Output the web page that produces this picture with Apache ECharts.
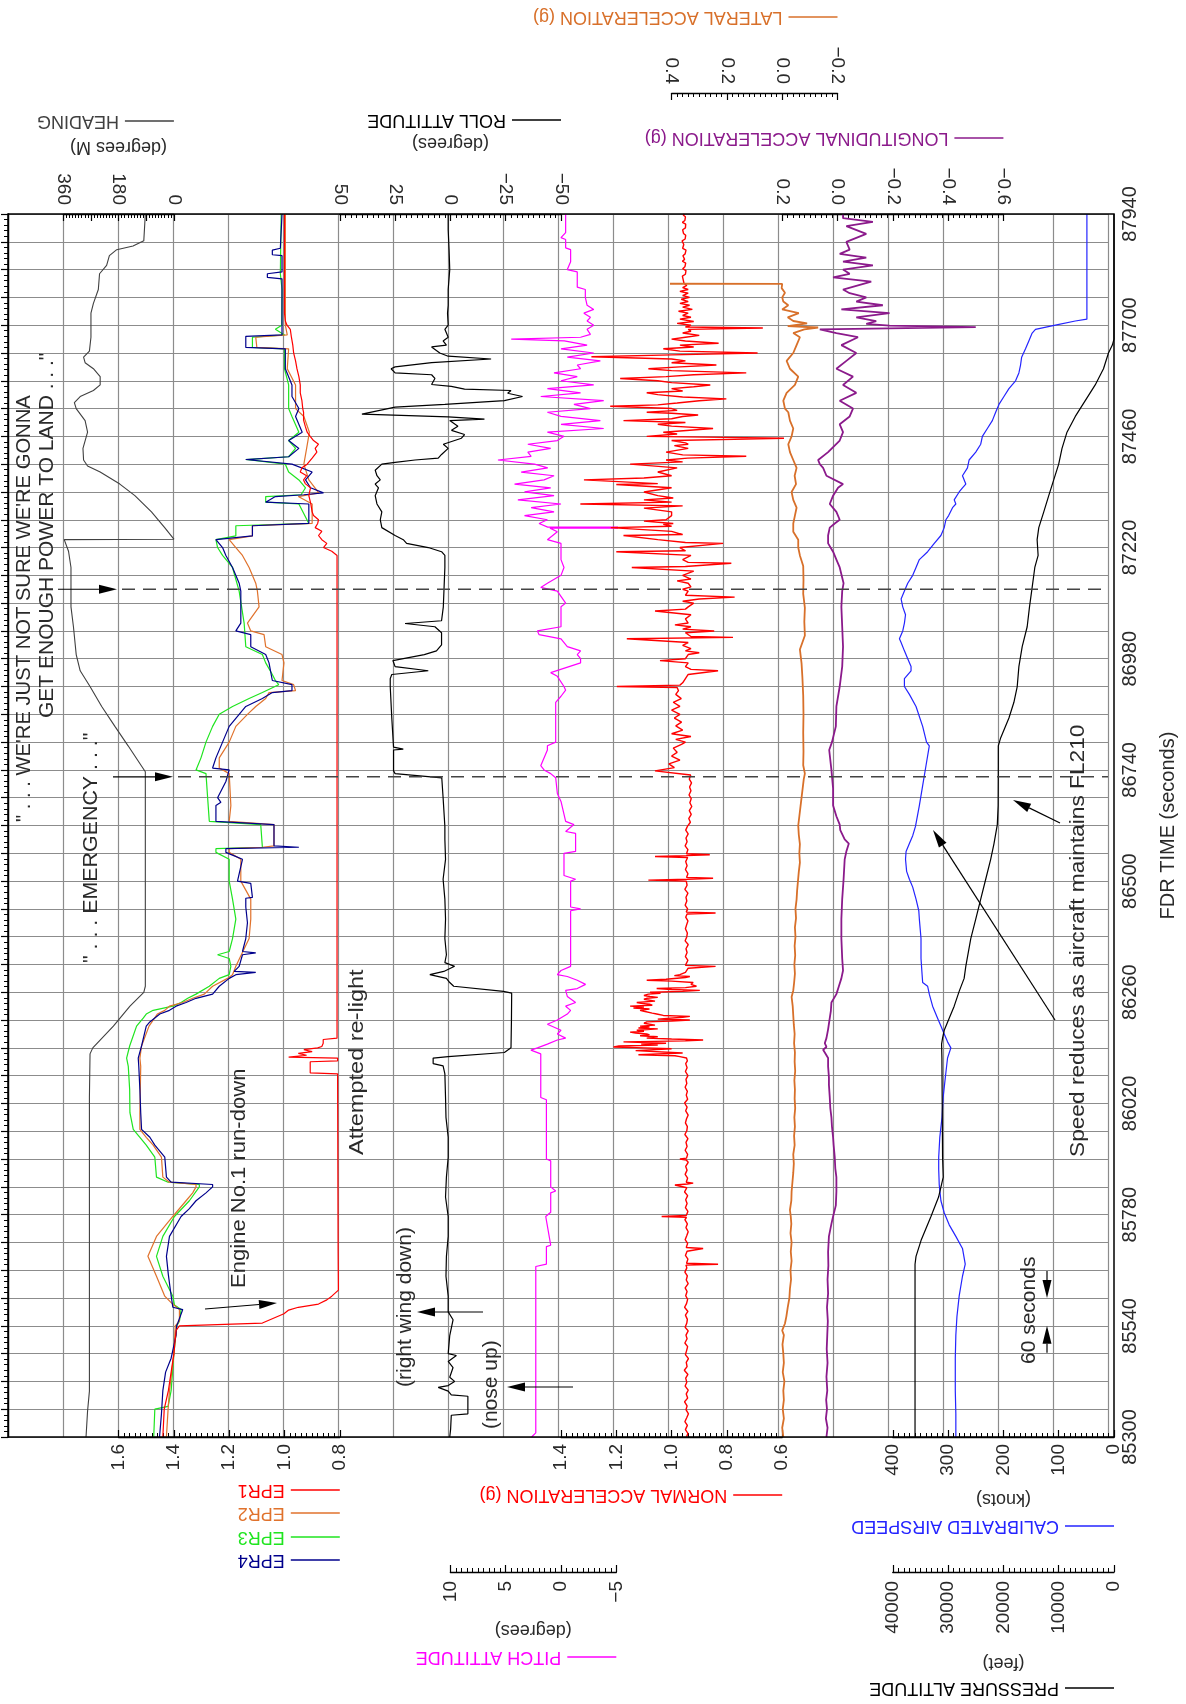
<!DOCTYPE html>
<html><head><meta charset="utf-8">
<script src="https://cdn.jsdelivr.net/npm/echarts@6/dist/echarts.min.js"></script>
<style>html,body{margin:0;padding:0;background:#fff}#c{width:1186px;height:1704px}</style>
</head><body><div id="c"></div>
<script>
// ---------------- DATA (FDR time in seconds, value) ----------------
const T0 = 85300, T1 = 87940;
const TIME_LABEL_STEP = 240, GRID_STEP = 60;
const EVENT_TIMES = [86725, 87130];

const HEADING = [[85300,286],[85356,281],[85399,275],[85690,275],[86033,275],[86127,273],[86140,264],[86187,197],[86230,143],[86260,98],[86273,93],[86736,93],[86749,106],[86792,149],[86834,192],[86877,235],[86920,273],[86954,305],[86989,318],[87049,327],[87092,335],[87177,335],[87212,343],[87237,357],[87238,360],[87238,0],[87263,30],[87297,73],[87332,127],[87357,176],[87383,240],[87396,281],[87409,294],[87434,296],[87469,281],[87494,289],[87520,318],[87533,324],[87546,305],[87559,262],[87571,240],[87589,240],[87606,262],[87619,289],[87631,294],[87644,275],[87674,270],[87726,270],[87747,262],[87777,246],[87811,242],[87829,219],[87850,210],[87863,186],[87871,133],[87882,98],[87940,93]];

const EPR1 = [[85300,1.44],[85360,1.435],[85400,1.42],[85480,1.40],[85530,1.392],[85540,1.38],[85546,1.08],[85566,1.002],[85574,0.985],[85580,0.95],[85587,0.877],[85596,0.847],[85604,0.829],[85617,0.805],[85700,0.806],[86084,0.808],[86086,0.907],[86110,0.907],[86112,0.808],[86118,0.808],[86120,0.985],[86124,0.92],[86128,0.95],[86132,0.90],[86136,0.93],[86140,0.88],[86143,0.865],[86150,0.86],[86158,0.86],[86161,0.81],[87203,0.81],[87212,0.829],[87220,0.859],[87229,0.847],[87237,0.865],[87246,0.877],[87255,0.865],[87263,0.889],[87272,0.88],[87280,0.877],[87289,0.895],[87297,0.90],[87315,0.905],[87332,0.912],[87349,0.906],[87358,0.925],[87366,0.931],[87375,0.92],[87383,0.943],[87392,0.937],[87400,0.918],[87413,0.90],[87426,0.883],[87434,0.889],[87443,0.877],[87451,0.895],[87460,0.907],[87469,0.918],[87482,0.925],[87495,0.931],[87512,0.931],[87520,0.934],[87537,0.937],[87554,0.943],[87571,0.943],[87589,0.948],[87606,0.955],[87623,0.96],[87640,0.967],[87657,0.97],[87674,0.975],[87691,0.979],[87700,0.991],[87709,0.997],[87726,1.0],[87940,1.0]];

const EPR2 = [[85300,1.427],[85360,1.421],[85400,1.416],[85480,1.40],[85540,1.395],[85550,1.38],[85575,1.38],[85590,1.41],[85604,1.433],[85647,1.463],[85690,1.494],[85733,1.463],[85776,1.404],[85810,1.356],[85827,1.332],[85840,1.32],[85845,1.32],[85850,1.416],[85861,1.44],[85904,1.445],[85930,1.475],[85947,1.50],[85964,1.523],[86000,1.523],[86100,1.52],[86118,1.523],[86144,1.517],[86187,1.49],[86213,1.46],[86221,1.433],[86230,1.416],[86238,1.368],[86247,1.332],[86256,1.29],[86273,1.26],[86290,1.206],[86298,1.188],[86316,1.176],[86376,1.128],[86418,1.122],[86461,1.122],[86500,1.158],[86547,1.158],[86562,1.20],[86570,1.20],[86573,1.08],[86576,1.038],[86622,1.038],[86625,1.04],[86629,1.20],[86663,1.194],[86732,1.20],[86744,1.236],[86766,1.236],[86800,1.20],[86834,1.176],[86860,1.134],[86877,1.104],[86894,1.068],[86907,1.056],[86911,0.96],[86924,0.967],[86933,1.009],[86971,1.002],[86989,1.009],[87006,1.068],[87032,1.074],[87040,1.122],[87057,1.134],[87092,1.092],[87126,1.098],[87143,1.104],[87177,1.128],[87203,1.152],[87220,1.176],[87237,1.20],[87245,1.116],[87267,1.116],[87272,0.90],[87314,0.90],[87330,0.95],[87338,0.876],[87366,0.912],[87400,0.93],[87434,0.92],[87469,0.91],[87503,0.93],[87520,0.96],[87571,0.96],[87606,0.99],[87649,0.985],[87652,1.10],[87674,1.104],[87679,0.99],[87700,0.997],[87777,0.997],[87940,0.997]];

const EPR3 = [[85300,1.473],[85360,1.469],[85366,1.421],[85400,1.41],[85480,1.40],[85540,1.39],[85550,1.38],[85575,1.374],[85585,1.398],[85604,1.404],[85647,1.44],[85690,1.463],[85733,1.44],[85776,1.398],[85810,1.344],[85840,1.308],[85845,1.308],[85850,1.421],[85861,1.463],[85904,1.469],[85930,1.50],[85947,1.523],[85964,1.547],[86000,1.559],[86050,1.56],[86100,1.565],[86118,1.571],[86144,1.56],[86187,1.535],[86204,1.511],[86213,1.50],[86221,1.475],[86230,1.404],[86238,1.374],[86247,1.35],[86256,1.32],[86273,1.272],[86290,1.236],[86298,1.20],[86316,1.194],[86333,1.20],[86341,1.242],[86348,1.20],[86376,1.188],[86418,1.176],[86461,1.188],[86500,1.20],[86547,1.20],[86562,1.248],[86570,1.248],[86573,1.08],[86576,1.08],[86622,1.086],[86625,1.09],[86629,1.272],[86680,1.278],[86732,1.284],[86740,1.32],[86766,1.302],[86800,1.284],[86834,1.26],[86860,1.236],[86877,1.188],[86894,1.128],[86907,1.08],[86924,1.021],[86933,1.033],[86946,1.044],[86971,1.068],[86989,1.08],[87006,1.14],[87057,1.146],[87126,1.164],[87177,1.188],[87203,1.224],[87220,1.242],[87237,1.248],[87245,1.176],[87267,1.176],[87272,0.912],[87314,0.948],[87318,1.068],[87330,1.068],[87334,0.94],[87349,0.924],[87366,0.948],[87383,0.985],[87400,0.997],[87410,1.14],[87416,0.985],[87434,0.96],[87451,0.985],[87469,0.948],[87503,0.973],[87520,0.985],[87571,0.985],[87606,1.0],[87649,1.0],[87652,1.116],[87674,1.116],[87679,1.0],[87691,1.033],[87700,1.01],[87777,1.009],[87811,1.015],[87940,1.012]];

const EPR4 = [[85300,1.452],[85350,1.445],[85400,1.44],[85440,1.43],[85470,1.41],[85520,1.392],[85540,1.39],[85546,1.386],[85575,1.368],[85580,1.404],[85605,1.41],[85650,1.42],[85690,1.427],[85733,1.416],[85776,1.374],[85793,1.344],[85810,1.32],[85827,1.284],[85840,1.26],[85845,1.26],[85850,1.41],[85861,1.427],[85904,1.433],[85930,1.469],[85947,1.487],[85964,1.517],[86000,1.52],[86050,1.523],[86100,1.527],[86118,1.529],[86144,1.517],[86187,1.50],[86196,1.487],[86213,1.451],[86221,1.416],[86230,1.392],[86238,1.356],[86247,1.32],[86256,1.26],[86273,1.236],[86290,1.20],[86298,1.176],[86303,1.104],[86305,1.182],[86316,1.164],[86341,1.152],[86345,1.104],[86348,1.152],[86376,1.14],[86410,1.134],[86444,1.14],[86463,1.14],[86465,1.116],[86495,1.122],[86500,1.17],[86547,1.152],[86556,1.188],[86562,1.212],[86570,1.212],[86573,0.948],[86576,1.038],[86622,1.038],[86625,1.044],[86629,1.248],[86663,1.248],[86670,1.23],[86680,1.242],[86715,1.212],[86740,1.20],[86744,1.26],[86766,1.248],[86800,1.224],[86834,1.20],[86860,1.164],[86877,1.14],[86894,1.08],[86907,1.044],[86911,0.973],[86924,0.973],[86933,1.044],[86971,1.056],[86989,1.068],[87006,1.122],[87032,1.122],[87040,1.176],[87057,1.158],[87126,1.158],[87143,1.164],[87177,1.188],[87203,1.212],[87220,1.224],[87237,1.248],[87245,1.116],[87267,1.116],[87272,0.912],[87314,0.912],[87318,1.068],[87330,1.033],[87334,0.93],[87338,0.859],[87349,0.906],[87366,0.924],[87383,0.90],[87400,0.973],[87410,1.14],[87416,0.985],[87434,0.948],[87451,0.985],[87469,0.936],[87503,0.96],[87520,0.948],[87546,0.973],[87571,0.973],[87606,0.997],[87649,0.997],[87652,1.14],[87676,1.14],[87679,1.009],[87700,1.009],[87800,1.009],[87803,1.062],[87811,1.062],[87815,1.009],[87850,1.009],[87852,1.044],[87862,1.044],[87866,1.015],[87940,1.009]];

const ROLL = [[85300,0.3],[85317,-0.1],[85347,-0.4],[85350,-7.9],[85388,-7.9],[85391,-0.4],[85399,1.0],[85407,5.5],[85411,1.0],[85420,-1.9],[85429,0.3],[85450,-1.2],[85463,1.0],[85476,-2.7],[85480,1.0],[85519,0.3],[85553,-1.2],[85570,1.0],[85604,1.0],[85647,2.0],[85690,1.8],[85733,1.0],[85776,1.0],[85818,2.2],[85861,1.8],[85904,1.0],[85947,1.0],[85990,2.0],[86033,2.2],[86084,2.5],[86101,3.3],[86106,7.8],[86118,7.8],[86121,1.0],[86130,-24.4],[86140,-27.4],[86200,-27.6],[86258,-27.7],[86262,-24],[86273,-1.5],[86281,0.3],[86290,1.8],[86298,9.3],[86305,3],[86316,-1.9],[86324,2.5],[86341,1.8],[86376,2.5],[86418,2.2],[86461,2.5],[86504,3.3],[86547,2.2],[86590,2.5],[86618,2.5],[86680,3.3],[86723,3.9],[86732,25],[86738,25.7],[86783,25.7],[86785,21.3],[86789,25.7],[86852,26.5],[86920,27.2],[86937,27.2],[86946,26.5],[86954,10],[86963,25],[86976,26],[86989,11.8],[86997,6.3],[87010,4],[87036,4],[87049,7],[87056,20.5],[87062,4],[87092,3.2],[87177,2.5],[87203,2.5],[87211,4],[87220,10],[87229,19.8],[87237,21.3],[87246,25],[87263,31],[87280,31.7],[87297,31],[87314,33.2],[87332,34],[87349,32.5],[87357,34],[87366,31.7],[87375,33.2],[87387,34],[87400,31],[87404,25],[87409,16],[87413,5.5],[87421,4],[87434,1],[87443,3.2],[87456,-5],[87464,-6.4],[87473,-0.5],[87482,-3.4],[87494,0.3],[87497,-15.4],[87502,1],[87508,40],[87523,25],[87529,2.5],[87537,-24.4],[87546,-32.6],[87553,-25.9],[87559,-27.4],[87562,-6.4],[87568,-0.4],[87572,8.5],[87585,7],[87593,8.5],[87597,25],[87606,26.8],[87610,25],[87619,8.5],[87627,-18.4],[87633,1],[87640,4.8],[87653,8.5],[87657,1.8],[87666,3.3],[87674,1],[87691,2.5],[87700,1],[87726,1.3],[87743,1],[87777,1],[87820,0.3],[87863,0.6],[87906,1],[87940,1]];

const PITCH = [[85300,2.66],[85309,2.28],[85668,2.28],[85673,1.32],[85711,1.32],[85714,0.93],[85776,1.38],[85785,0.93],[85827,0.93],[85831,0.48],[85840,0.93],[85896,0.93],[85900,1.32],[86028,1.32],[86033,1.83],[86127,1.83],[86135,2.72],[86140,2.13],[86148,1.23],[86157,0.33],[86161,-0.42],[86170,0.33],[86178,0],[86191,1.23],[86200,0.33],[86213,-0.57],[86221,-0.87],[86230,-0.42],[86238,-1.32],[86251,-0.57],[86264,-0.42],[86268,-1.47],[86277,-2.22],[86286,-1.47],[86294,-0.57],[86298,0.33],[86307,0],[86316,-0.87],[86436,-0.87],[86440,-1.77],[86444,-0.87],[86500,-0.87],[86504,-1.32],[86512,-0.27],[86560,-0.27],[86564,-1.32],[86603,-1.32],[86607,-0.42],[86622,-1.17],[86629,-0.42],[86672,0],[86689,0.33],[86723,0.48],[86732,0.93],[86740,1.53],[86749,1.83],[86783,1.23],[86792,1.23],[86800,0.48],[86886,0.48],[86899,0],[86912,-0.42],[86920,-0.27],[86942,0.33],[86950,0.93],[86971,-1.77],[86980,-1.77],[86989,-1.47],[86997,-1.77],[87006,-0.57],[87023,0],[87032,1.98],[87040,2.13],[87049,0],[87092,0],[87100,-0.42],[87126,0.33],[87134,1.83],[87143,1.23],[87160,0],[87177,-0.27],[87194,0],[87229,0],[87237,1.23],[87254,0.33],[87262,1.0],[87263,-50],[87264,1.2],[87272,1.98],[87280,1.23],[87289,3.3],[87297,0.63],[87306,2.7],[87314,0],[87323,3.9],[87332,0.63],[87340,3.3],[87349,0.93],[87357,4.2],[87366,1.53],[87375,0.63],[87383,3.6],[87392,1.2],[87400,2.4],[87409,5.7],[87417,2.7],[87426,3.0],[87434,0.93],[87443,3.0],[87451,0.33],[87460,-0.27],[87469,1.23],[87477,-3.86],[87486,0],[87494,-3.56],[87503,0],[87512,1.23],[87520,-2.66],[87529,-1.17],[87537,-3.86],[87546,1.83],[87554,-1.77],[87563,1.23],[87571,-2.96],[87580,0],[87589,-1.47],[87597,0.63],[87606,-1.77],[87614,-1.47],[87623,-3.56],[87631,-0.57],[87640,-2.96],[87649,0],[87657,-2.36],[87666,-0.3],[87670,4.5],[87674,-1.77],[87680,-2.66],[87691,-2.36],[87700,-2.96],[87709,-2.36],[87717,-2.66],[87726,-2.07],[87734,-2.96],[87743,-2.36],[87760,-2.2],[87777,-2.2],[87782,-1.47],[87815,-1.47],[87820,-0.57],[87837,-0.87],[87863,-0.87],[87867,-0.42],[87885,-0.42],[87889,0],[87900,-0.42],[87940,-0.42]];

const NORMAL_ACC = [[85300,0.946],[85308,0.941],[85316,0.950],[85325,0.943],[85333,0.952],[85342,0.945],[85350,0.939],[85359,0.948],[85367,0.944],[85376,0.953],[85384,0.942],[85393,0.947],[85401,0.940],[85410,0.951],[85418,0.945],[85427,0.949],[85435,0.941],[85444,0.954],[85452,0.944],[85461,0.947],[85469,0.939],[85478,0.950],[85486,0.946],[85495,0.942],[85503,0.952],[85512,0.944],[85520,0.948],[85529,0.940],[85537,0.951],[85546,0.945],[85554,0.943],[85563,0.950],[85571,0.941],[85580,0.953],[85588,0.946],[85597,0.942],[85605,0.949],[85614,0.944],[85622,0.951],[85631,0.940],[85639,0.947],[85648,0.943],[85656,0.952],[85665,0.945],[85671,0.948],[85673,0.832],[85675,0.946],[85684,0.941],[85692,0.950],[85701,0.944],[85705,0.949],[85707,0.886],[85709,0.947],[85718,0.942],[85726,0.951],[85735,0.945],[85743,0.940],[85752,0.948],[85760,0.943],[85769,0.952],[85774,0.946],[85776,1.036],[85778,0.947],[85787,0.941],[85795,0.950],[85804,0.944],[85812,0.949],[85821,0.942],[85829,0.953],[85838,0.945],[85842,0.948],[85844,0.988],[85846,0.943],[85848,0.922],[85850,0.947],[85859,0.942],[85867,0.951],[85876,0.944],[85884,0.949],[85893,0.940],[85898,0.947],[85900,0.97],[85902,0.946],[85910,0.942],[85919,0.951],[85927,0.944],[85936,0.948],[85944,0.941],[85953,0.952],[85961,0.945],[85970,0.943],[85978,0.950],[85987,0.946],[85995,0.940],[86004,0.949],[86012,0.944],[86021,0.953],[86029,0.942],[86038,0.947],[86046,0.943],[86055,0.951],[86063,0.945],[86072,0.948],[86080,0.941],[86089,0.950],[86097,0.944],[86106,0.949],[86112,0.943],[86118,0.946],[86121,0.97],[86123,0.988],[86125,1.12],[86127,1.05],[86129,0.96],[86131,0.958],[86134,1.13],[86136,1.126],[86138,1.0],[86140,1.1],[86142,1.21],[86144,1.19],[86146,1.05],[86148,1.11],[86150,1.02],[86153,1.174],[86155,0.95],[86157,0.886],[86159,1.0],[86161,1.09],[86164,1.05],[86166,1.114],[86168,1.08],[86170,1.09],[86172,1.13],[86174,1.15],[86176,1.1],[86178,1.126],[86181,1.05],[86183,1.12],[86185,1.08],[86187,1.114],[86189,1.06],[86191,1.066],[86193,1.1],[86196,1.09],[86198,1.0],[86200,0.934],[86202,1.05],[86204,1.054],[86206,0.96],[86208,0.934],[86210,1.03],[86213,1.054],[86215,1.07],[86217,1.066],[86219,1.1],[86221,1.114],[86224,1.08],[86226,1.138],[86228,1.1],[86230,1.15],[86232,1.07],[86234,1.078],[86236,1.11],[86238,1.126],[86241,1.06],[86243,1.066],[86245,1.1],[86247,1.09],[86249,1.05],[86251,1.078],[86253,1.1],[86256,1.084],[86258,1.04],[86260,1.078],[86262,0.96],[86264,0.898],[86266,1.0],[86268,1.054],[86270,0.95],[86273,0.91],[86277,0.93],[86281,0.922],[86284,1.0],[86286,1.09],[86288,1.02],[86290,1.018],[86292,0.95],[86294,0.934],[86296,0.99],[86298,0.97],[86303,0.95],[86307,0.946],[86312,0.94],[86316,0.841],[86318,0.95],[86320,0.946],[86329,0.941],[86337,0.950],[86346,0.944],[86354,0.948],[86363,0.940],[86371,0.951],[86380,0.945],[86388,0.943],[86397,0.950],[86405,0.946],[86414,0.941],[86422,0.949],[86429,0.944],[86431,0.841],[86433,0.947],[86440,0.942],[86448,0.951],[86457,0.945],[86465,0.948],[86474,0.941],[86482,0.952],[86491,0.944],[86500,0.947],[86502,1.084],[86504,0.943],[86506,0.85],[86508,0.946],[86516,0.941],[86525,0.950],[86533,0.944],[86542,0.949],[86551,0.942],[86553,1.06],[86555,0.947],[86557,0.862],[86559,0.946],[86568,0.941],[86576,0.951],[86585,0.944],[86593,0.948],[86602,0.940],[86610,0.949],[86618,0.943],[86627,0.932],[86635,0.938],[86644,0.929],[86652,0.936],[86661,0.927],[86669,0.934],[86678,0.929],[86686,0.937],[86695,0.930],[86703,0.935],[86712,0.928],[86720,0.936],[86729,0.931],[86738,1.06],[86745,0.99],[86753,1.01],[86761,0.97],[86770,1.0],[86778,0.98],[86787,0.994],[86795,0.964],[86800,0.95],[86806,0.985],[86812,0.93],[86818,1.0],[86826,0.96],[86835,0.985],[86843,0.964],[86852,0.99],[86860,0.97],[86869,1.0],[86877,0.97],[86886,0.994],[86894,0.965],[86903,0.985],[86911,0.975],[86918,0.98],[86920,1.198],[86923,0.97],[86928,0.96],[86937,0.95],[86946,0.94],[86954,0.832],[86957,0.93],[86963,0.95],[86971,0.94],[86976,1.042],[86980,0.95],[86989,0.94],[86993,0.9],[86997,0.95],[87002,0.93],[87009,0.96],[87015,0.94],[87023,1.162],[87026,0.778],[87028,0.93],[87036,0.95],[87040,0.846],[87044,0.96],[87049,0.93],[87053,0.988],[87057,0.94],[87066,0.95],[87075,0.93],[87083,1.06],[87087,0.95],[87092,0.94],[87100,0.92],[87104,0.96],[87109,0.9],[87113,0.772],[87117,0.95],[87126,0.94],[87130,0.96],[87135,0.93],[87143,0.94],[87148,0.98],[87152,0.93],[87160,0.96],[87169,0.92],[87177,1.144],[87179,0.95],[87186,0.784],[87188,0.94],[87194,0.96],[87203,0.93],[87211,1.2],[87213,0.95],[87220,0.97],[87229,0.814],[87231,0.95],[87237,1.05],[87246,1.174],[87248,0.96],[87255,1.0],[87263,1.22],[87266,1.0],[87270,1.03],[87272,0.994],[87277,1.1],[87280,1.02],[87289,1.0],[87297,1.0],[87305,1.1],[87310,0.96],[87314,1.33],[87318,1.0],[87323,1.1],[87327,0.994],[87332,1.05],[87340,1.1],[87349,1.0],[87356,1.2],[87358,1.05],[87366,1.317],[87370,1.1],[87375,1.0],[87383,1.05],[87392,0.98],[87400,1.15],[87405,0.96],[87409,1.02],[87413,0.942],[87417,0.73],[87420,0.96],[87426,1.02],[87434,0.94],[87440,0.99],[87443,0.94],[87446,0.95],[87451,1.0],[87456,0.572],[87460,1.09],[87465,0.98],[87469,1.03],[87477,0.85],[87482,1.0],[87486,1.05],[87490,0.95],[87494,1.174],[87498,1.0],[87503,0.96],[87506,0.904],[87510,1.0],[87512,1.09],[87516,0.98],[87520,1.0],[87525,1.222],[87528,1.05],[87532,0.98],[87537,0.9],[87541,0.802],[87545,0.96],[87550,1.05],[87554,1.09],[87558,0.96],[87563,1.0],[87567,0.92],[87571,0.86],[87576,1.0],[87580,1.05],[87585,1.186],[87589,1.02],[87593,0.92],[87597,0.73],[87602,1.0],[87606,1.084],[87610,0.97],[87614,0.838],[87619,1.0],[87623,0.95],[87627,1.0],[87632,1.29],[87636,1.0],[87640,0.689],[87644,0.97],[87649,1.03],[87653,0.92],[87657,0.97],[87661,0.83],[87666,0.95],[87670,1.0],[87674,0.95],[87678,0.9],[87683,0.96],[87687,0.93],[87691,0.94],[87694,0.67],[87696,0.95],[87700,0.93],[87704,0.98],[87708,0.92],[87713,0.97],[87717,0.93],[87721,0.96],[87726,0.94],[87730,0.975],[87734,0.925],[87739,0.96],[87743,0.935],[87747,0.97],[87751,0.94],[87756,0.965],[87760,0.935],[87764,0.96],[87769,0.94],[87773,0.97],[87777,0.94],[87781,0.96],[87786,0.945],[87790,0.955],[87794,0.949],[87798,0.958],[87802,0.951],[87806,0.961],[87810,0.950],[87814,0.957],[87818,0.948],[87822,0.960],[87826,0.952],[87830,0.956],[87834,0.949],[87838,0.961],[87842,0.953],[87846,0.950],[87850,0.959],[87854,0.951],[87858,0.957],[87862,0.948],[87866,0.960],[87870,0.953],[87874,0.956],[87878,0.950],[87882,0.962],[87886,0.951],[87890,0.958],[87894,0.949],[87898,0.957],[87902,0.952],[87906,0.960],[87910,0.950],[87914,0.956],[87918,0.949],[87922,0.961],[87926,0.952],[87930,0.957],[87934,0.950],[87938,0.958],[87940,0.954]];

const LATERAL_ACC = [[85300,-0.004],[85320,0.0],[85340,-0.006],[85360,-0.002],[85380,-0.006],[85400,-0.004],[85420,-0.008],[85440,-0.002],[85460,-0.006],[85480,-0.004],[85500,-0.001],[85520,-0.006],[85530,0.0],[85545,-0.01],[85560,-0.015],[85580,-0.02],[85600,-0.026],[85620,-0.028],[85640,-0.032],[85660,-0.03],[85680,-0.034],[85700,-0.031],[85720,-0.034],[85740,-0.03],[85760,-0.033],[85776,-0.031],[85790,-0.028],[85810,-0.033],[85830,-0.034],[85850,-0.037],[85870,-0.04],[85890,-0.042],[85910,-0.04],[85930,-0.045],[85950,-0.043],[85970,-0.046],[85990,-0.044],[86010,-0.047],[86030,-0.045],[86050,-0.046],[86070,-0.044],[86090,-0.047],[86110,-0.045],[86130,-0.046],[86150,-0.043],[86170,-0.045],[86190,-0.042],[86210,-0.04],[86230,-0.038],[86250,-0.034],[86264,-0.04],[86280,-0.043],[86300,-0.046],[86320,-0.044],[86340,-0.047],[86360,-0.045],[86380,-0.048],[86400,-0.046],[86420,-0.05],[86440,-0.048],[86460,-0.052],[86480,-0.054],[86500,-0.057],[86520,-0.06],[86540,-0.064],[86560,-0.062],[86580,-0.064],[86600,-0.06],[86620,-0.058],[86640,-0.062],[86660,-0.066],[86680,-0.07],[86700,-0.074],[86720,-0.078],[86732,-0.082],[86750,-0.076],[86780,-0.077],[86820,-0.076],[86860,-0.077],[86900,-0.076],[86940,-0.073],[86970,-0.07],[87000,-0.064],[87030,-0.082],[87060,-0.08],[87090,-0.082],[87120,-0.076],[87150,-0.077],[87180,-0.076],[87203,-0.064],[87220,-0.058],[87237,-0.058],[87254,-0.04],[87272,-0.04],[87289,-0.046],[87306,-0.052],[87323,-0.04],[87340,-0.034],[87357,-0.05],[87375,-0.045],[87392,-0.052],[87409,-0.04],[87426,-0.028],[87443,-0.022],[87460,-0.034],[87477,-0.04],[87494,-0.028],[87512,-0.022],[87520,-0.01],[87537,-0.004],[87554,-0.016],[87571,-0.046],[87589,-0.058],[87606,-0.028],[87623,-0.016],[87640,-0.04],[87657,-0.052],[87674,-0.064],[87683,-0.04],[87691,-0.08],[87695,-0.13],[87698,-0.02],[87704,-0.09],[87709,-0.04],[87717,-0.02],[87726,-0.06],[87734,0.0],[87743,-0.022],[87751,-0.004],[87760,0.0],[87770,-0.01],[87780,0.002],[87789,0.0],[87790,1.0],[87940,1.0]];

const LONG_ACC = [[85300,0.04],[85320,0.036],[85340,0.042],[85360,0.038],[85380,0.041],[85400,0.037],[85430,0.04],[85460,0.036],[85490,0.039],[85520,0.037],[85550,0.035],[85580,0.038],[85610,0.034],[85640,0.036],[85670,0.033],[85700,0.034],[85733,0.031],[85760,0.022],[85776,0.016],[85800,0.006],[85830,0.004],[85861,0.004],[85880,0.008],[85904,0.01],[85930,0.014],[85947,0.016],[85970,0.02],[85990,0.022],[86010,0.026],[86033,0.028],[86060,0.031],[86076,0.031],[86100,0.034],[86118,0.034],[86130,0.046],[86136,0.052],[86142,0.04],[86150,0.046],[86161,0.04],[86180,0.034],[86204,0.028],[86220,0.024],[86238,0.022],[86256,0.004],[86273,-0.005],[86290,-0.014],[86307,-0.02],[86333,-0.017],[86376,-0.014],[86418,-0.014],[86461,-0.017],[86504,-0.022],[86547,-0.026],[86564,-0.032],[86581,-0.041],[86590,-0.026],[86610,-0.01],[86622,-0.008],[86640,0.004],[86663,0.016],[86700,0.016],[86740,0.022],[86783,0.03],[86800,0.02],[86834,0.006],[86877,0.004],[86920,-0.008],[86963,-0.017],[87006,-0.02],[87049,-0.017],[87092,-0.014],[87126,-0.017],[87143,-0.022],[87177,-0.008],[87194,0.004],[87211,0.016],[87229,0.034],[87246,0.034],[87263,0.028],[87272,0.01],[87280,-0.008],[87297,0.004],[87314,0.028],[87332,0.016],[87349,-0.002],[87357,-0.02],[87375,0.04],[87392,0.052],[87400,0.064],[87409,0.07],[87426,0.034],[87451,-0.008],[87469,-0.02],[87486,-0.008],[87503,-0.044],[87520,-0.056],[87537,-0.008],[87554,-0.068],[87571,-0.02],[87589,-0.056],[87606,0.004],[87623,-0.032],[87640,-0.068],[87657,-0.014],[87674,-0.074],[87683,0.004],[87691,0.064],[87696,-0.50],[87699,-0.188],[87703,-0.104],[87709,-0.14],[87717,-0.068],[87726,-0.188],[87734,-0.014],[87743,-0.164],[87751,-0.068],[87760,-0.104],[87769,-0.044],[87777,-0.02],[87794,-0.122],[87803,0.016],[87811,-0.044],[87820,-0.02],[87829,-0.128],[87837,-0.02],[87846,-0.104],[87854,-0.008],[87863,-0.044],[87880,-0.032],[87897,-0.104],[87914,-0.032],[87923,-0.128],[87931,-0.02],[87940,-0.02]];

const AIRSPEED = [[85300,286],[85350,286],[85400,287],[85470,287],[85520,286],[85560,284],[85604,280],[85647,274],[85673,269],[85707,274],[85733,286],[85758,298],[85784,307],[85810,313],[85844,316],[85878,317],[85904,317],[85947,315],[85990,311],[86033,309],[86076,305],[86118,301],[86140,295],[86153,301],[86170,307],[86187,313],[86204,319],[86230,328],[86256,334],[86273,337],[86281,346],[86298,347],[86333,349],[86376,349],[86418,352],[86436,353],[86461,358],[86487,364],[86504,370],[86521,375],[86547,377],[86564,376],[86581,370],[86598,364],[86618,359],[86663,352],[86706,346],[86749,340],[86792,334],[86800,339],[86834,346],[86877,358],[86903,370],[86920,379],[86937,379],[86954,367],[86963,367],[86980,373],[86997,379],[87015,385],[87023,388],[87040,382],[87057,379],[87075,377],[87092,382],[87109,385],[87126,379],[87143,373],[87160,364],[87177,358],[87194,352],[87211,337],[87229,325],[87246,313],[87263,307],[87280,304],[87289,299],[87306,292],[87314,286],[87323,289],[87340,280],[87349,274],[87357,268],[87375,274],[87392,265],[87409,262],[87426,250],[87443,241],[87460,238],[87477,229],[87494,220],[87512,214],[87529,208],[87546,199],[87563,190],[87580,178],[87597,172],[87614,169],[87631,167],[87649,160],[87666,154],[87683,148],[87691,142],[87700,106],[87709,70],[87713,49],[87940,49]];

const ALTITUDE = [[85300,35980],[85673,35980],[85690,35800],[85724,34900],[85776,33100],[85818,31720],[85861,30880],[85904,31000],[86118,31120],[86148,31180],[86161,31000],[86178,30700],[86204,29800],[86230,28900],[86262,28000],[86290,27100],[86316,26800],[86376,25900],[86418,25000],[86461,24100],[86504,23200],[86547,22300],[86581,21700],[86622,21100],[86663,20950],[86749,20920],[86792,20920],[86809,20500],[86852,19000],[86886,18100],[86920,17500],[86963,17200],[87006,16600],[87049,15700],[87092,15280],[87134,14800],[87177,14320],[87203,13720],[87237,13900],[87263,13600],[87297,12700],[87332,11800],[87366,10900],[87400,10000],[87434,9400],[87469,8500],[87503,7000],[87537,5200],[87571,3400],[87606,1900],[87640,1000],[87657,300],[87670,0],[87940,0]];

// ---------------- LAYOUT / STYLE ----------------
const FL = 8, FT = 214, FW = 1106, FH = 1223, NC = 20, CW = FW / NC;
const FONT = "'Liberation Sans', Arial, sans-serif";
const TXT = '#2a2a2a', GRIDC = '#8c8c8c';
const C = {epr1:'#ff0000', epr2:'#e0722c', epr3:'#1fe51f', epr4:'#00008c', hdg:'#404040', roll:'#000000',
  pitch:'#ff00ff', nz:'#ff0000', lat:'#d8702a', lon:'#8b1a8b', cas:'#2424ff', alt:'#000000'};

function colGrid(i0, i1) { return {left: FL + i0 * CW, top: FT, width: (i1 - i0) * CW, height: FH}; }
function minusFmt(s, v) { return (v < -1e-9 ? '\u2212' : '') + s; }
const f1 = v => minusFmt(Math.abs(v).toFixed(1), v);
const fi = v => minusFmt(String(Math.round(Math.abs(v))), v);

function paramAxis(gi, min, max, interval, pos, offset, fmt, split, margin) {
  return {gridIndex: gi, type: 'value', min, max, interval, inverse: true, position: pos, offset: offset || 0,
    axisLine: {show: true, onZero: false, lineStyle: {color: '#000', width: 1.4}},
    axisTick: {show: true, inside: true, length: 7, lineStyle: {color: '#000', width: 1.2}},
    minorTick: {show: true, splitNumber: split, length: 4, lineStyle: {color: '#000', width: 1}},
    axisLabel: {show: true, rotate: 90, margin: margin, fontSize: 19, fontFamily: FONT, color: TXT, formatter: fmt},
    splitLine: {show: false}, minorSplitLine: {show: false}};
}

const grids = [colGrid(0,20), colGrid(1,3), colGrid(2,6), colGrid(6,10), colGrid(8,11), colGrid(10,14),
  colGrid(12,15), colGrid(14,18), colGrid(16,20), colGrid(16,20)];

const xAxes = [
  {gridIndex: 0, type: 'value', min: 0, max: NC, interval: 1, axisLine: {show: false}, axisTick: {show: false},
    axisLabel: {show: false}, splitLine: {show: true, lineStyle: {color: GRIDC, width: 1.2}}},
  paramAxis(1, 0, 360, 90, 'top', 0, v => (v % 180 === 0 ? String(v) : ''), 9, 9),
  paramAxis(2, 0.8, 1.6, 0.2, 'bottom', 0, f1, 10, 7),
  paramAxis(3, -50, 50, 25, 'top', 0, fi, 10, 9),
  paramAxis(4, -5, 10, 5, 'bottom', 135, fi, 10, 9),
  paramAxis(5, 0.6, 1.4, 0.2, 'bottom', 0, f1, 10, 7),
  paramAxis(6, -0.2, 0.4, 0.2, 'top', 121, f1, 10, 9),
  paramAxis(7, -0.6, 0.2, 0.2, 'top', 0, f1, 10, 9),
  paramAxis(8, 0, 400, 100, 'bottom', 0, fi, 10, 7),
  paramAxis(9, 0, 40000, 10000, 'bottom', 135, fi, 10, 9)
];

const yAxes = [{gridIndex: 0, type: 'value', min: 0, max: T1 - T0, interval: GRID_STEP, position: 'right',
  axisLine: {show: true, lineStyle: {color: '#000', width: 1.4}},
  axisTick: {show: true, inside: true, length: 7, lineStyle: {color: '#000', width: 1.2}},
  minorTick: {show: true, splitNumber: 5, length: 4, lineStyle: {color: '#000', width: 1}},
  axisLabel: {show: true, rotate: 90, margin: 12, fontSize: 20, fontFamily: FONT, color: TXT,
    formatter: v => (Math.round(v) % TIME_LABEL_STEP === 0 ? String(Math.round(v) + T0) : '')},
  splitLine: {show: true, lineStyle: {color: GRIDC, width: 1.2}},
  name: 'FDR TIME (seconds)', nameLocation: 'middle', nameRotate: 90, nameGap: 50,
  nameTextStyle: {fontSize: 20, fontFamily: FONT, color: TXT}}];
for (let g = 1; g < grids.length; g++) yAxes.push({gridIndex: g, type: 'value', min: 0, max: T1 - T0, show: false});

function ser(k, data, color, width, z) {
  return {type: 'line', xAxisIndex: k, yAxisIndex: k, data: data.map(p => [p[1], p[0] - T0]),
    symbol: 'none', showSymbol: false, clip: false, silent: true, animation: false, z: z || 3,
    lineStyle: {color: color, width: width}};
}

const series = [
  ser(1, HEADING, C.hdg, 1.1),
  ser(2, EPR3, C.epr3, 1.2), ser(2, EPR2, C.epr2, 1.2), ser(2, EPR4, C.epr4, 1.2), ser(2, EPR1, C.epr1, 1.2, 4),
  ser(3, ROLL, C.roll, 1.2),
  ser(4, PITCH, C.pitch, 1.2),
  ser(5, NORMAL_ACC, C.nz, 1.4),
  ser(6, LATERAL_ACC, C.lat, 1.8),
  ser(7, LONG_ACC, C.lon, 1.8),
  ser(8, AIRSPEED, C.cas, 1.2),
  ser(9, ALTITUDE, C.alt, 1.2)
];

const chart = echarts.init(document.getElementById('c'), null, {renderer: 'canvas', width: 1186, height: 1704});
chart.setOption({animation: false, backgroundColor: '#fff', grid: grids, xAxis: xAxes, yAxis: yAxes, series: series});

// ---------------- ANNOTATIONS ----------------
function font(sz) { return sz + 'px ' + FONT; }
function txt(text, x, y, rot, align, color, sz, sx) {
  return {type: 'text', x: x, y: y, rotation: rot, scaleX: sx || 1, z: 50, silent: true,
    style: {text: text, fill: color, font: font(sz), align: align, textAlign: align,
      verticalAlign: 'middle', textVerticalAlign: 'middle'}};
}
function seg(x1, y1, x2, y2, color, w, dash) {
  return {type: 'line', z: 50, silent: true, shape: {x1, y1, x2, y2},
    style: {stroke: color, lineWidth: w || 1.2, lineDash: dash || null}};
}
function arrow(x1, y1, x2, y2) {
  const dx = x2 - x1, dy = y2 - y1, L = Math.hypot(dx, dy), ux = dx / L, uy = dy / L;
  const hl = 18, hw = 4.5, bx = x2 - ux * hl, by = y2 - uy * hl;
  return [seg(x1, y1, bx, by, '#000', 1.2),
    {type: 'polygon', z: 50, silent: true, shape: {points: [[x2, y2], [bx - uy * hw, by + ux * hw], [bx + uy * hw, by - ux * hw]]},
      style: {fill: '#000'}}];
}
const PI = Math.PI;
function legend(text, xLineStart, xLineEnd, y, color) {
  return [txt(text, xLineStart - 6, y, PI, 'left', color, 18), seg(xLineStart, y, xLineEnd, y, color, 1.3)];
}
const xc = i => FL + i * CW;
let G = [];
G.push({type: 'rect', z: 60, silent: true, shape: {x: FL, y: FT, width: FW, height: FH}, style: {fill: 'none', stroke: '#000', lineWidth: 1.5}});
G = G.concat(legend('HEADING', xc(3) - 49, xc(3), 121, C.hdg));
G.push(txt('(degrees M)', (xc(1) + xc(3)) / 2, 147, PI, 'center', TXT, 18));
G = G.concat(legend('ROLL ATTITUDE', xc(10) - 49, xc(10), 120, '#000'));
G.push(txt('(degrees)', (xc(6) + xc(10)) / 2, 143, PI, 'center', TXT, 18));
G = G.concat(legend('LATERAL ACCELERATION (g)', xc(15) - 49, xc(15), 17, C.lat));
G = G.concat(legend('LONGITUDINAL ACCELERATION (g)', xc(18) - 49, xc(18), 138, C.lon));
G = G.concat(legend('EPR1', xc(6) - 49, xc(6), 1490, C.epr1));
G = G.concat(legend('EPR2', xc(6) - 49, xc(6), 1513, C.epr2));
G = G.concat(legend('EPR3', xc(6) - 49, xc(6), 1537, C.epr3));
G = G.concat(legend('EPR4', xc(6) - 49, xc(6), 1560, C.epr4));
G = G.concat(legend('NORMAL ACCELERATION (g)', xc(14) - 49, xc(14), 1495, C.nz));
G.push(txt('(degrees)', (xc(8) + xc(11)) / 2, 1630, PI, 'center', TXT, 18));
G = G.concat(legend('PITCH ATTITUDE', xc(11) - 49, xc(11), 1657, C.pitch));
G.push(txt('(knots)', (xc(16) + xc(20)) / 2, 1499, PI, 'center', TXT, 18));
G = G.concat(legend('CALIBRATED AIRSPEED', xc(20) - 49, xc(20), 1526, C.cas));
G.push(txt('(feet)', (xc(16) + xc(20)) / 2, 1663, PI, 'center', TXT, 18));
G = G.concat(legend('PRESSURE ALTITUDE', xc(20) - 49, xc(20), 1688, '#000'));

G.push(txt('" . . . WE\'RE JUST NOT SURE WE\'RE GONNA', 24.5, 822, PI / 2, 'left', TXT, 20, 1.01));
G.push(txt('GET ENOUGH POWER TO LAND . . ."', 47, 718, PI / 2, 'left', TXT, 20, 1.05));
G.push(txt('" . . . EMERGENCY . . ."', 91, 963, PI / 2, 'left', TXT, 20, 1.07));
G.push(txt('Engine No.1 run-down', 239.5, 1288, PI / 2, 'left', TXT, 21, 1.05));
G.push(txt('Attempted re-light', 357, 1155, PI / 2, 'left', TXT, 21, 1.12));
G.push(txt('(right wing down)', 405, 1387, PI / 2, 'left', TXT, 21, 1.0));
G.push(txt('(nose up)', 491, 1429, PI / 2, 'left', TXT, 21, 1.0));
G.push(txt('Speed reduces as aircraft maintains FL210', 1078, 1157, PI / 2, 'left', TXT, 21, 1.08));
G.push(txt('60 seconds', 1029, 1364, PI / 2, 'left', TXT, 21, 1.0));

const yE = EVENT_TIMES.map(t => chart.convertToPixel({gridIndex: 0}, [0, t - T0])[1]);
const xRight = chart.convertToPixel({gridIndex: 0}, [NC, 0])[0];
G = G.concat(arrow(113, yE[0], 173, yE[0]));
G.push(seg(178, yE[0], xRight, yE[0], '#444', 1.5, [13, 8]));
G = G.concat(arrow(58, yE[1], 117, yE[1]));
G.push(seg(122, yE[1], xRight, yE[1], '#444', 1.5, [13, 8]));
G = G.concat(arrow(205, 1309, 277, 1303));
G = G.concat(arrow(483, 1312, 417, 1312));
G = G.concat(arrow(573, 1387, 507, 1387));
G = G.concat(arrow(1055, 1020, 933, 830));
G = G.concat(arrow(1060, 823, 1013, 800));
const y60a = chart.convertToPixel({gridIndex: 0}, [0, 240 + 60])[1];
const y60b = chart.convertToPixel({gridIndex: 0}, [0, 240])[1];
G = G.concat(arrow(1047, y60a - 27, 1047, y60a));
G = G.concat(arrow(1047, y60b + 27, 1047, y60b));

chart.setOption({graphic: {elements: G}});
</script></body></html>
